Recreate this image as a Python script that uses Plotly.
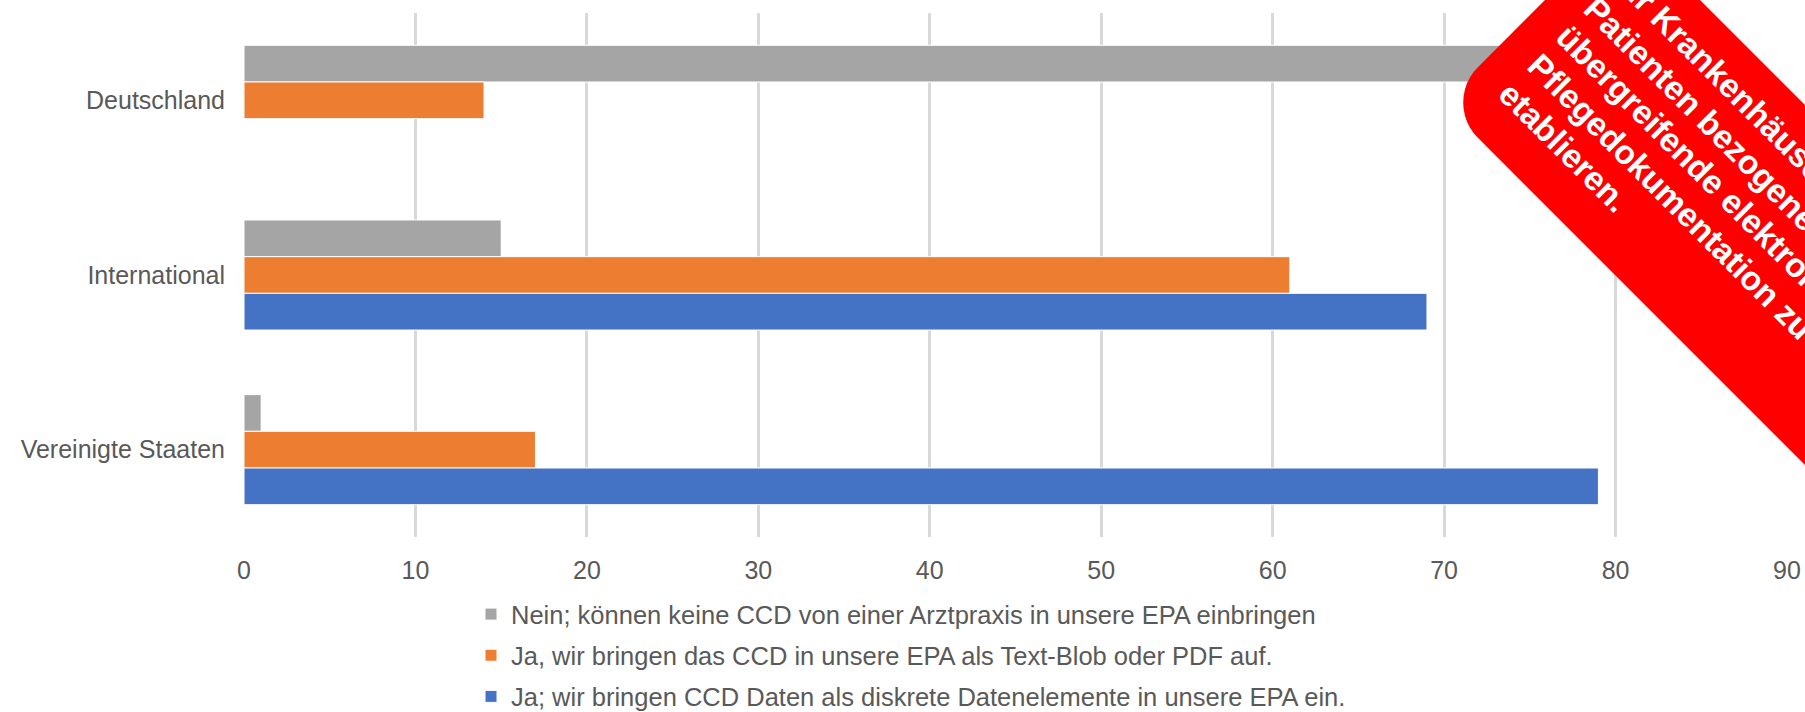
import math
import plotly.graph_objects as go

# Kategorien und Werte
laender = ["Deutschland", "International", "Vereinigte Staaten"]

serie_namen = [
    "Nein; können keine CCD von einer Arztpraxis in unsere EPA einbringen",
    "Ja, wir bringen das CCD in unsere EPA als Text-Blob oder PDF auf.",
    "Ja; wir bringen CCD Daten als diskrete Datenelemente in unsere EPA ein.",
]
nein_werte = [80, 15, 1]
pdf_werte = [14, 61, 17]
diskret_werte = [None, 69, 79]

farben = ["#A5A5A5", "#ED7D31", "#4472C4"]

x_ticks = list(range(0, 100, 10))

banner_zeilen = [
    "für Krankenhäuser",
    "Patienten bezogene",
    "übergreifende elektronische",
    "Pflegedokumentation zu",
    "etablieren.",
]

# Layout in Pixeln
W, H = 1805, 712
ML, MR, MT, MB = 244, 18, 13, 175
PW = W - ML - MR
PH = H - MT - MB


def px2paper(x, y):
    return (x - ML) / PW, 1 - (y - MT) / PH


fig = go.Figure()
for name, werte, farbe in zip(serie_namen, [nein_werte, pdf_werte, diskret_werte], farben):
    fig.add_trace(go.Bar(
        y=laender, x=werte, name=name, orientation="h",
        legendgroup=name,
        marker=dict(color=farbe, line=dict(color="white", width=1)),
    ))

# roter Banner oben rechts (gedrehtes, abgerundetes Rechteck, 45 Grad)
S0, S1 = 1545, 3400   # x+y
D0, D1 = 1340, 1700   # x-y
r = 50
s2 = math.sqrt(2)
u0, u1, v0, v1 = S0 / s2, S1 / s2, D0 / s2, D1 / s2


def corner(cu, cv, a_start):
    pts = []
    for k in range(13):
        a = math.radians(a_start + 90 * k / 12)
        pts.append((cu + r * math.cos(a), cv + r * math.sin(a)))
    return pts


uv = []
uv += corner(u0 + r, v0 + r, 180)   # unten links
uv += corner(u1 - r, v0 + r, 270)
uv += corner(u1 - r, v1 - r, 0)
uv += corner(u0 + r, v1 - r, 90)

pfad = ""
for i, (u, v) in enumerate(uv):
    x = (u + v) / s2
    y = (u - v) / s2
    px, py = px2paper(x, y)
    pfad += ("M" if i == 0 else "L") + f"{px:.5f},{py:.5f} "
pfad += "Z"

fig.add_shape(type="path", path=pfad, xref="paper", yref="paper",
              fillcolor="#FF0000", line=dict(width=0), layer="above")

fs = 33.5
S_text = 1591
h_box = 1.2 * fs + 2
for i, zeile in enumerate(banner_zeilen):
    Db = 1400 + 57 * (len(banner_zeilen) - 1 - i)
    Dm = Db + 0.35 * fs * s2
    sx = (S_text + Dm) / 2
    sy = (S_text - Dm) / 2
    ax_, ay_ = sx - h_box * 0.7071 / 2, sy - h_box * 0.7071 / 2
    px, py = px2paper(ax_, ay_)
    fig.add_annotation(
        x=px, y=py, xref="paper", yref="paper",
        xanchor="left", yanchor="top", showarrow=False,
        text=zeile, textangle=45,
        font=dict(family="Liberation Sans, Arial", size=fs, color="white", weight="bold"),
    )

fig.update_layout(
    width=W, height=H,
    margin=dict(l=ML, r=MR, t=MT, b=MB, autoexpand=False),
    plot_bgcolor="white", paper_bgcolor="white",
    barmode="group", bargap=0.37, bargroupgap=0,
    font=dict(family="Liberation Sans, Arial", size=25, color="#595959"),
    showlegend=True,
    legend=dict(
        xref="container", yref="container",
        x=471 / W, y=1 - 591 / H,
        xanchor="left", yanchor="top",
        orientation="v", traceorder="grouped", tracegroupgap=5,
        font=dict(size=25.5, color="#595959"),
    ),
    xaxis=dict(
        range=[0, 90], tickvals=x_ticks, showgrid=True,
        gridcolor="#D9D9D9", gridwidth=2.5, zeroline=False, showline=False,
        ticklabelstandoff=16,
    ),
    yaxis=dict(
        categoryorder="array", categoryarray=laender, autorange="reversed",
        showgrid=False, zeroline=False, showline=False,
        ticklabelstandoff=18,
    ),
)

fig.write_html("out.html", config={"displayModeBar": False},
               post_script="document.body.style.margin='0';")
